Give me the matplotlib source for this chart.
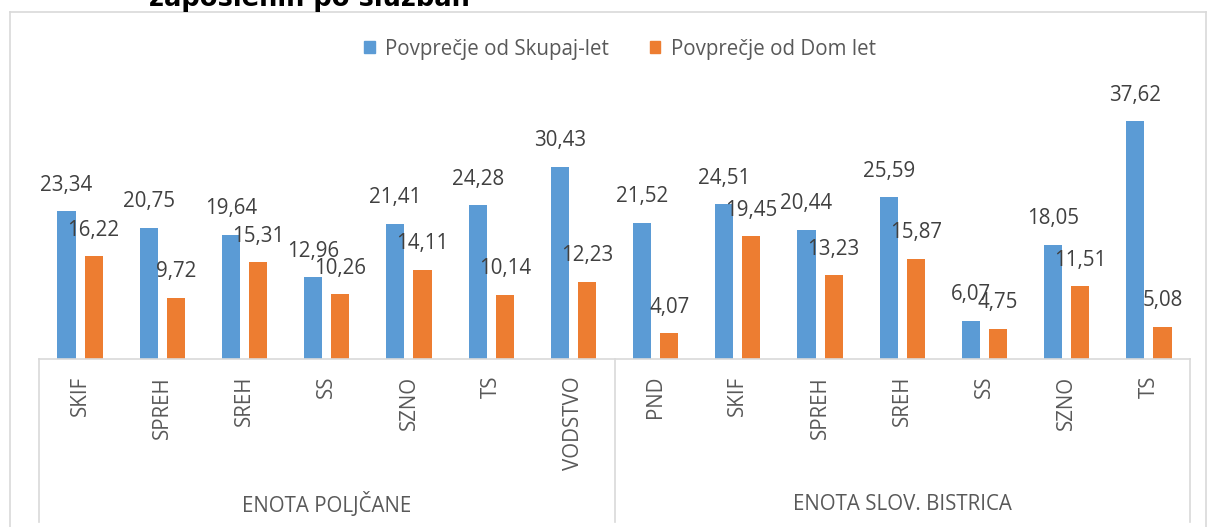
import matplotlib.pyplot as plt
from matplotlib.patches import Patch
from matplotlib.lines import Line2D
import matplotlib.transforms as mtransforms
import numpy as np

plt.rcParams['font.family'] = ['Open Sans', 'DejaVu Sans']

# data
groups = ["ENOTA POLJČANE", "ENOTA SLOV. BISTRICA"]
cats_poljcane = ["SKIF", "SPREH", "SREH", "SS", "SZNO", "TS", "VODSTVO"]
cats_bistrica = ["PND", "SKIF", "SPREH", "SREH", "SS", "SZNO", "TS"]
skupaj_let = [23.34, 20.75, 19.64, 12.96, 21.41, 24.28, 30.43,
              21.52, 24.51, 20.44, 25.59, 6.07, 18.05, 37.62]
dom_let = [16.22, 9.72, 15.31, 10.26, 14.11, 10.14, 12.23,
           4.07, 19.45, 13.23, 15.87, 4.75, 11.51, 5.08]
series_names = ["Povprečje od Skupaj-let", "Povprečje od Dom let"]

blue = "#5B9BD5"
orange = "#ED7D31"
txt = "#404040"
gridc = "#D9D9D9"
fs = 14.8

W, H = 1208, 527
fig = plt.figure(figsize=(W / 100, H / 100), dpi=100)
# plot area in pixels: x 39..1190, baseline y 359, top (40) at y 106
ax = fig.add_axes([39 / W, 1 - 359 / H, (1190 - 39) / W, (359 - 106) / H])

cats = cats_poljcane + cats_bistrica
x = np.arange(len(cats))
bw = 0.22
off = 0.165
ax.bar(x - off, skupaj_let, bw, color=blue)
ax.bar(x + off, dom_let, bw, color=orange)

def fmt(v):
    return ("%.2f" % v).replace(".", ",")

for xi, v in zip(x - off, skupaj_let):
    ax.annotate(fmt(v), (xi, v), xytext=(0, 18.7), textcoords="offset points",
                ha="center", va="center", fontsize=fs, color=txt)
for xi, v in zip(x + off, dom_let):
    ax.annotate(fmt(v), (xi, v), xytext=(0, 18.7), textcoords="offset points",
                ha="center", va="center", fontsize=fs, color=txt)

ax.set_xlim(-0.5, len(cats) - 0.5)
ax.set_ylim(0, 40)
ax.set_xticks([])
ax.set_yticks([])
for s in ["top", "right", "left"]:
    ax.spines[s].set_visible(False)
ax.spines["bottom"].set_color(gridc)
ax.spines["bottom"].set_linewidth(1.2)

# multi-level category axis
tr = mtransforms.blended_transform_factory(ax.transData, fig.transFigure)
n1 = len(cats_poljcane)
for xb in [-0.5, n1 - 0.5, len(cats) - 0.5]:
    fig.add_artist(Line2D([xb, xb], [1 - 359 / H, 1 - 522 / H], transform=tr,
                          color=gridc, lw=1.2))
for i, c in enumerate(cats):
    fig.text(i, 1 - 376 / H, c, transform=tr, rotation=90, ha="center",
             va="top", fontsize=fs, color="#595959")
centers = [(n1 - 1) / 2, n1 + (len(cats_bistrica) - 1) / 2]
for cx, g in zip(centers, groups):
    fig.text(cx, 1 - 505 / H, g, transform=tr, ha="center", va="center",
             fontsize=fs, color="#595959")

# outer chart border
fig.add_artist(Line2D([10 / W, 10 / W], [0, 1 - 12 / H], color=gridc, lw=1.2))
fig.add_artist(Line2D([10 / W, 1206 / W], [1 - 12 / H, 1 - 12 / H], color=gridc, lw=1.2))
fig.add_artist(Line2D([1206 / W, 1206 / W], [0, 1 - 12 / H], color=gridc, lw=1.2))

# title, cut off at the top
fig.text(309 / W, 1 - 6 / H, "zaposlenih po službah", ha="center", va="baseline",
         fontsize=18.5, fontweight="bold", color="black", family="DejaVu Sans")

handles = [Patch(color=blue, label=series_names[0]),
           Patch(color=orange, label=series_names[1])]
fig.legend(handles=handles, loc="center", bbox_to_anchor=(620 / W, 1 - 49 / H),
           ncol=2, frameon=False, fontsize=fs, handlelength=0.5,
           handleheight=0.5, handletextpad=0.5, columnspacing=2.0,
           labelcolor="#595959")

fig.savefig("out.png", dpi=100)
